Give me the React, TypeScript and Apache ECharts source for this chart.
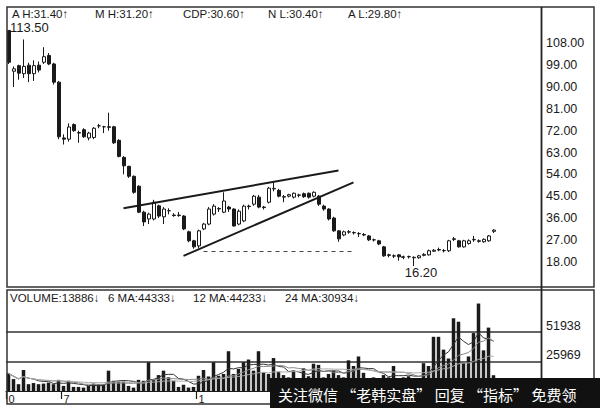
import React, { useEffect, useRef } from 'react';
import * as echarts from 'echarts';

// [open, close, lowest, highest]
const ohlc: number[][] = [
  [113.3, 100.2, 99.5, 113.5],
  [96.5, 97.5, 90, 98.5],
  [98.8, 95.7, 93, 99.2],
  [95.5, 98.5, 93.7, 109.6],
  [99, 95.5, 92, 100],
  [95.5, 98.8, 92.5, 101],
  [99, 97, 96, 100.5],
  [100.2, 102.5, 99.5, 106.4],
  [103, 99.5, 99, 104],
  [99.5, 92, 91, 100],
  [92, 69.5, 68.5, 92.5],
  [69, 68.5, 66.3, 70.5],
  [68.5, 73.5, 67.5, 75],
  [74.5, 72, 71.5, 75],
  [71.2, 71, 67, 72],
  [72.4, 69.5, 69, 73],
  [69, 71, 68, 71.5],
  [69.2, 73, 68.5, 73.5],
  [74, 74, 73, 74.8],
  [73.6, 73.6, 71, 74],
  [73.6, 73.4, 72, 79.4],
  [73.6, 67, 66.5, 74],
  [68, 61.4, 61, 68.5],
  [61, 57.5, 54, 61.5],
  [57.3, 53.2, 52.5, 57.5],
  [53.2, 46.6, 46, 53.5],
  [49.1, 38.4, 38, 49.5],
  [38.4, 34.4, 32.7, 39],
  [35.6, 37.6, 33.5, 38.2],
  [35.6, 42.5, 35, 43.5],
  [41, 36.8, 36, 41.5],
  [36.5, 39.7, 33.5, 40.5],
  [39, 39, 37.5, 40],
  [37.2, 37, 36.5, 38],
  [37, 37.2, 36.5, 38.5],
  [36.8, 31.5, 31, 37.2],
  [30.3, 26.6, 26, 30.8],
  [26.6, 24.1, 23.3, 27],
  [24.5, 30.7, 23.5, 31.2],
  [31.5, 33.5, 31, 34],
  [33.5, 39.7, 33, 40.5],
  [37.6, 40.9, 37, 41.7],
  [39.7, 39.9, 38.5, 40.5],
  [38.4, 43, 38, 46.6],
  [40.5, 39.7, 38.5, 41],
  [39.7, 32.7, 32.5, 40],
  [33.5, 38.8, 33, 39.5],
  [34.8, 40.9, 34.3, 41.5],
  [40.9, 40.7, 39.5, 41.5],
  [41.7, 45, 41, 45.5],
  [44.6, 40.5, 40, 45.5],
  [40.5, 40.3, 39.5, 41],
  [42.5, 48.3, 42, 48.8],
  [48, 48.2, 47, 50.7],
  [47.4, 45, 44.5, 48],
  [44.6, 44.8, 42.5, 45.5],
  [45, 45.6, 44.5, 46],
  [44.6, 46.2, 44, 46.5],
  [45.5, 45.4, 44.5, 46],
  [46, 44.8, 44.3, 46.5],
  [46.2, 44.6, 44, 46.5],
  [45, 46.6, 44.5, 47],
  [45, 41.7, 41, 45.5],
  [40.9, 39.7, 39, 41.5],
  [39.7, 35.6, 35, 40],
  [36, 30.7, 30.3, 36.5],
  [30.7, 27.4, 26.2, 31],
  [29, 30.3, 28.5, 30.8],
  [30.3, 30.2, 29.5, 31],
  [30, 29.9, 29.2, 30.5],
  [29.5, 29.6, 28.2, 30.2],
  [29.2, 29, 28.5, 29.8],
  [28.6, 27, 26.5, 29],
  [27, 27, 26.3, 27.5],
  [26.6, 25.3, 24.8, 27],
  [24.1, 20.4, 20, 24.5],
  [20.8, 20.6, 19.8, 21.3],
  [20.4, 20.3, 19.5, 21],
  [20.8, 20, 18.4, 21],
  [20, 19.8, 19, 20.5],
  [20, 20.1, 19.3, 20.5],
  [19.6, 19.8, 16.2, 20.2],
  [19.6, 20.4, 19.2, 20.8],
  [20.6, 21, 20.2, 21.5],
  [20.8, 22.5, 20.5, 23],
  [22.3, 22.7, 22, 23.2],
  [23, 22.8, 22.3, 23.8],
  [22.5, 22.6, 21.8, 23.2],
  [22.5, 26.6, 22, 27],
  [27.4, 27.2, 26.5, 28.2],
  [26.6, 24.1, 23.8, 27],
  [24.1, 26.6, 23.8, 27],
  [25.5, 26.6, 25, 27.2],
  [27, 27.2, 26.2, 28.6],
  [26.6, 26.4, 25.8, 27.2],
  [26.2, 27.2, 25.8, 27.6],
  [26.6, 28.6, 26.2, 29],
  [30.5, 31, 29.8, 31.4],
];

const volumes: number[] = [
  15500, 10500, 6000, 18500, 6000, 7000, 6000, 6500, 7400, 6000,
  9800, 4500, 9000, 3600, 3600, 3000, 4500, 6500, 6000, 6000,
  17900, 9000, 8300, 8300, 4500, 3000, 9800, 9000, 25300, 9800,
  14000, 17900, 12000, 9000, 3600, 5500, 3000, 3600, 13400, 18500,
  12800, 25300, 13400, 15000, 35000, 15000, 19400, 25300, 27700, 17900,
  35000, 16400, 15000, 29000, 17000, 14000, 12000, 18000, 11000, 20000,
  13000, 24000, 23000, 12000, 15000, 18000, 14000, 12000, 27000, 22000,
  30400, 16000, 11000, 12000, 10000, 14000, 12000, 22000, 11000, 12000,
  13000, 9000, 11000, 24500, 22000, 47700, 47700, 36400, 28600, 64000,
  61000, 25000, 30400, 51000, 77000, 35800, 55800, 13886,
];

const priceHeaderTexts = ['A H:31.40↑', 'M H:31.20↑', 'CDP:30.60↑', 'N L:30.40↑', 'A L:29.80↑'];
const volumeHeaderTexts = ['VOLUME:13886↓', '6 MA:44333↓', '12 MA:44233↓', '24 MA:30934↓'];
const dateMarks: Record<number, string> = { 0: '0', 11: '7', 38: '1' };
const volumeLevels = [25969, 51938];
// trend lines in [slot index, price]
const resistanceLine = [[23, 40], [66, 55.6]];
const supportLine = [[35, 20.4], [69, 50.7]];
const lowLevel = { from: 39, to: 69, price: 22.5 };
const maPeriods = [6, 12, 24];
const watermarkText = '关注微信 “老韩实盘” 回复 “指标” 免费领';

const SLOT_COUNT = 107;
const categories = Array.from({ length: SLOT_COUNT }, (_, i) => String(i));

const FONT = '"Liberation Sans", Arial, "DejaVu Sans", sans-serif';
const INK = '#1a1a1a';

function movingAverage(values: number[], n: number): number[] {
  return values.map((_, i) => {
    const s = Math.max(0, i - n + 1);
    const w = values.slice(s, i + 1);
    return Math.round(w.reduce((a, b) => a + b, 0) / w.length);
  });
}

export default function App() {
  const ref = useRef<HTMLDivElement>(null);
  useEffect(() => {
    document.body.style.margin = '0';
    const chart = echarts.init(ref.current!, undefined, { renderer: 'svg' });
    const maColors = ['#333', '#888', '#aaa'];
    const priceHeaderX = [12, 95, 183, 268, 348];
    const volumeHeaderX = [10, 108, 193, 285];
    const volMax = volumeLevels[1] + volumeLevels[0];

    const option: any = {
      animation: false,
      backgroundColor: '#fff',
      grid: [
        { left: 6, top: 21.5, width: 535, height: 262 },
        { left: 6, top: 302.5, width: 535, height: 88.5 },
      ],
      xAxis: [
        {
          type: 'category', gridIndex: 0, data: categories,
          axisLine: { show: false }, axisTick: { show: false }, axisLabel: { show: false }, splitLine: { show: false },
        },
        {
          type: 'category', gridIndex: 1, data: categories,
          axisLine: { show: true, lineStyle: { color: INK, width: 1 } },
          axisTick: { show: true, length: 8, interval: (i: number) => dateMarks[i] !== undefined, lineStyle: { color: INK, width: 1.2 } },
          axisLabel: {
            interval: (i: number) => dateMarks[i] !== undefined,
            formatter: (_v: string, i: number) => dateMarks[i] ?? '',
            align: 'left', margin: 2, fontSize: 11, color: INK, fontFamily: FONT,
          },
          splitLine: { show: false },
        },
      ],
      yAxis: [
        {
          type: 'value', gridIndex: 0, position: 'right', min: 9, max: 117, interval: 9,
          axisLine: { show: false }, axisTick: { show: false }, splitLine: { show: false },
          axisLabel: {
            formatter: (v: number) => (v >= 18 && v <= 108 ? v.toFixed(2) : ''),
            margin: 5, fontSize: 12.5, color: INK, fontFamily: FONT,
          },
        },
        {
          type: 'value', gridIndex: 1, position: 'right', min: 0, max: volMax, interval: volumeLevels[0],
          axisLine: { show: false }, axisTick: { show: false },
          splitLine: { show: true, lineStyle: { color: ['rgba(0,0,0,0)', '#333', '#333', 'rgba(0,0,0,0)'], width: 1.5 } },
          axisLabel: {
            formatter: (v: number) => (volumeLevels.includes(v) ? String(v) : ''),
            verticalAlign: 'bottom', margin: 5, fontSize: 12.5, color: INK, fontFamily: FONT,
          },
        },
      ],
      series: [
        {
          type: 'candlestick', xAxisIndex: 0, yAxisIndex: 0, data: ohlc, barWidth: 3.5,
          itemStyle: { color: '#fff', color0: INK, borderColor: INK, borderColor0: INK, borderWidth: 1 },
          markPoint: {
            symbol: 'circle', symbolSize: 1, itemStyle: { color: 'rgba(0,0,0,0)' }, silent: true,
            label: { show: true, color: INK, fontSize: 13, fontFamily: FONT },
            data: [
              { type: 'max', valueDim: 'highest', label: { position: 'right', distance: 0, offset: [1, -2.5], formatter: (p: any) => Number(p.value).toFixed(2) } },
              { type: 'min', valueDim: 'lowest', label: { position: 'inside', offset: [7.5, 6], formatter: (p: any) => Number(p.value).toFixed(2) } },
            ],
          },
          markLine: {
            symbol: ['none', 'none'], silent: true, label: { show: false },
            lineStyle: { color: INK, width: 2, type: 'solid' },
            data: [
              [{ coord: resistanceLine[0] }, { coord: resistanceLine[1] }],
              [{ coord: supportLine[0] }, { coord: supportLine[1] }],
              [
                { coord: [lowLevel.from, lowLevel.price], lineStyle: { color: '#444', width: 1, type: [4, 4] } },
                { coord: [lowLevel.to, lowLevel.price] },
              ],
            ],
          },
        },
        {
          type: 'bar', xAxisIndex: 1, yAxisIndex: 1, data: volumes, barWidth: 3.5,
          itemStyle: { color: INK },
        },
        ...maPeriods.map((n, k) => ({
          type: 'line', xAxisIndex: 1, yAxisIndex: 1, data: movingAverage(volumes, n),
          showSymbol: false, symbol: 'none', lineStyle: { color: maColors[k], width: 1 },
        })),
      ],
      graphic: [
        { type: 'rect', z: 50, silent: true, shape: { x: 7, y: 7, width: 587, height: 280 }, style: { fill: 'none', stroke: '#333', lineWidth: 1.5 } },
        { type: 'rect', z: 50, silent: true, shape: { x: 7, y: 290, width: 587, height: 114 }, style: { fill: 'none', stroke: '#333', lineWidth: 1.5 } },
        { type: 'line', z: 50, silent: true, shape: { x1: 541.5, y1: 7, x2: 541.5, y2: 404 }, style: { stroke: '#222', lineWidth: 1.8 } },
        ...priceHeaderTexts.map((t, i) => ({
          type: 'text', z: 60, silent: true, x: priceHeaderX[i], y: 13.5,
          style: { text: t, fill: INK, fontSize: 11.5, fontFamily: FONT, verticalAlign: 'middle' },
        })),
        ...volumeHeaderTexts.map((t, i) => ({
          type: 'text', z: 60, silent: true, x: volumeHeaderX[i], y: 298,
          style: { text: t, fill: INK, fontSize: 11.5, fontFamily: FONT, verticalAlign: 'middle' },
        })),
        { type: 'rect', z: 100, silent: true, shape: { x: 270, y: 378, width: 330, height: 30 }, style: { fill: '#111' } },
        {
          type: 'text', z: 101, silent: true, x: 278, y: 394,
          style: { text: watermarkText, fill: '#fff', fontSize: 15, fontFamily: '"Noto Sans CJK SC", sans-serif', verticalAlign: 'middle' },
        },
      ],
    };
    chart.setOption(option);
    return () => chart.dispose();
  }, []);
  return <div ref={ref} style={{ width: 600, height: 408, position: 'absolute', left: 0, top: 0, background: '#fff' }} />;
}
